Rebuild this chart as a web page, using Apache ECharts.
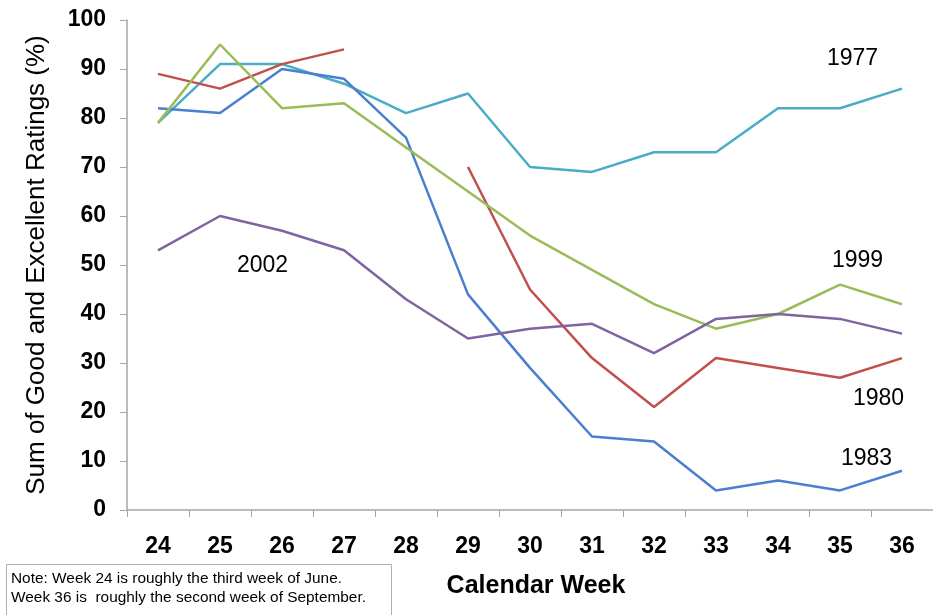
<!DOCTYPE html>
<html>
<head>
<meta charset="utf-8">
<script src="https://cdn.jsdelivr.net/npm/echarts@6/dist/echarts.min.js"></script>
<style>html,body{margin:0;padding:0;background:#fff}#c{width:933px;height:615px}</style>
</head>
<body>
<div id="c"></div>
<script>
var weeks = ['24','25','26','27','28','29','30','31','32','33','34','35','36'];
var y1977 = [79, 91, 91, 87, 81, 85, 70, 69, 73, 73, 82, 82, 86];
var y1980 = [89, 86, 91, 94, null, 70, 45, 31, 21, 31, 29, 27, 31];
var y1983 = [82, 81, 90, 88, 76, 44, 29, 15, 14, 4, 6, 4, 8];
var y1999 = [79, 95, 82, 83, 74, 65, 56, 49, 42, 37, 40, 46, 42];
var y2002 = [53, 60, 57, 53, 43, 35, 37, 38, 32, 39, 40, 39, 36];
var yTicks = [0, 100, 10];

var chart = echarts.init(document.getElementById('c'));
function ser(name, data, color) {
  return {name: name, type: 'line', data: data, showSymbol: false, symbol: 'none',
    connectNulls: false, lineStyle: {width: 2.5, color: color}, itemStyle: {color: color}};
}
var lblFont = 'Liberation Sans, Arial, sans-serif';
function ann(text, x, cy) {
  return {type: 'text', x: x, y: cy, style: {text: text, font: '23px ' + lblFont, fill: '#000', verticalAlign: 'middle', textVerticalAlign: 'middle'}};
}
chart.setOption({
  animation: false,
  grid: {left: 127, right: -11, top: 20, bottom: 105, containLabel: false},
  xAxis: {
    type: 'category', data: weeks, boundaryGap: true,
    name: 'Calendar Week', nameLocation: 'middle', nameGap: 64,
    nameTextStyle: {fontFamily: lblFont, fontSize: 25, fontWeight: 'bold', color: '#000', padding: [0, 0, 0, 12]},
    axisLine: {lineStyle: {color: '#a6a6a6', width: 1.5}},
    axisTick: {show: true, length: 7, lineStyle: {color: '#a6a6a6'}},
    axisLabel: {margin: 25, fontFamily: lblFont, fontSize: 23, fontWeight: 'bold', color: '#000'},
    splitLine: {show: false}
  },
  yAxis: {
    type: 'value', min: yTicks[0], max: yTicks[1], interval: yTicks[2],
    name: 'Sum of Good and Excellent Ratings (%)', nameLocation: 'middle', nameGap: 77,
    nameTextStyle: {fontFamily: lblFont, fontSize: 26, fontWeight: 'normal', color: '#000'},
    axisLine: {show: true, lineStyle: {color: '#a6a6a6', width: 1.5}},
    axisTick: {show: true, length: 7, lineStyle: {color: '#a6a6a6'}},
    axisLabel: {margin: 21, fontFamily: lblFont, fontSize: 23, fontWeight: 'bold', color: '#000'},
    splitLine: {show: false}
  },
  series: [
    ser('1977', y1977, '#4bacc6'),
    ser('1980', y1980, '#c0504d'),
    ser('1983', y1983, '#4a7ecf'),
    ser('1999', y1999, '#9bbb59'),
    ser('2002', y2002, '#8064a2')
  ],
  graphic: [
    ann('1977', 827, 59),
    ann('1999', 832, 261),
    ann('1980', 853, 399),
    ann('1983', 841, 459),
    ann('2002', 237, 266),
    {type: 'rect', shape: {x: 6.5, y: 564.5, width: 385, height: 60},
      style: {fill: '#fff', stroke: '#b0b0b0', lineWidth: 1}},
    {type: 'text', x: 11, y: 570, scaleX: 1.1, style: {text: 'Note: Week 24 is roughly the third week of June.\nWeek 36 is  roughly the second week of September.',
      font: '14px ' + lblFont, fill: '#000', lineHeight: 19, verticalAlign: 'top', textVerticalAlign: 'top'}}
  ]
});
</script>
</body>
</html>
